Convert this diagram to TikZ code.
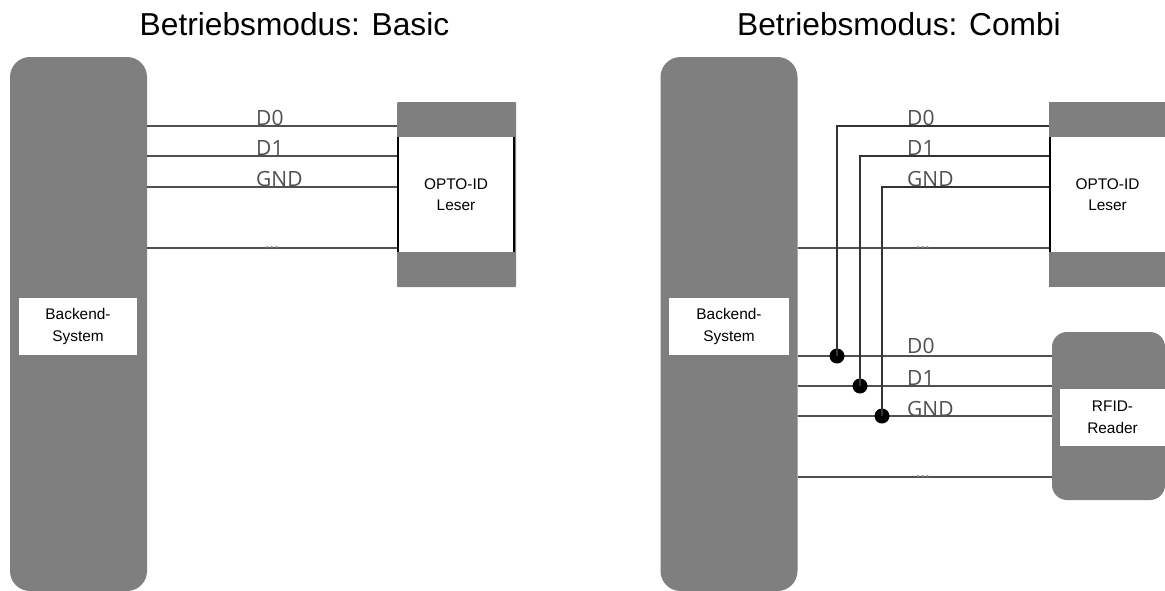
\documentclass[tikz,border=0pt]{standalone}
\usepackage{fontspec}
\setmainfont{Liberation Sans}
\newfontfamily\wirefont{Open Sans}
\definecolor{blockgray}{HTML}{7F7F7F}
\definecolor{wiregray}{HTML}{505050}
\definecolor{labelgray}{HTML}{505050}
\begin{document}
\begin{tikzpicture}[x=1pt,y=-1pt,
  block/.style={fill=blockgray,draw=none,inner sep=0pt,minimum width=#1},
  whitebox/.style={fill=white,draw=none,inner sep=0pt,align=center,font=\fontsize{15.4}{21.5}\selectfont,minimum width=#1},
  titletext/.style={inner sep=0pt,font=\fontsize{31.7}{35}\selectfont,anchor=base},
  wire/.style={draw=wiregray,line width=2.4pt},
  vwire/.style={draw=black!80,line width=2pt},
  wirelabel/.style={inner sep=0pt,anchor=base west,text=labelgray,font=\wirefont\fontsize{21}{22}\selectfont},
  dotslabel/.style={inner sep=0pt,anchor=base,text=labelgray!70,font=\wirefont\fontsize{17}{18}\selectfont},
  junction/.style={circle,fill=black,inner sep=0pt,minimum size=15pt},
  edgeline/.style={draw=black,line width=1.5pt}]
\useasboundingbox (0,0) rectangle (1165,590);
\fill[white] (0,0) rectangle (1165,590);

\node[titletext] (titleA) at (294.5,35.5) {Betriebsmodus: Basic};
\node[titletext] (titleB) at (899,35.5) {Betriebsmodus: Combi};

% Basic
\node[block=137pt,minimum height=534pt,rounded corners=20pt] (backA) at (78.5,324) {};
\node[whitebox=118pt,minimum height=57pt] (backAt) at (78,326.5) {Backend-\\System};
\node[block=119pt,minimum height=185pt,rounded corners=1pt] (optoA) at (456.5,194.5) {};
\node[whitebox=116pt,minimum height=115pt] (optoAt) at (456,194.5) {OPTO-ID\\Leser};
\draw[edgeline] (optoAt.north west) -- (optoAt.south west);
\draw[edgeline] (optoAt.north east) -- (optoAt.south east);
\coordinate (ya0) at (0,126);
\coordinate (ya1) at (0,156);
\coordinate (ya2) at (0,187);
\coordinate (ya3) at (0,248);
\foreach \c in {ya0,ya1,ya2,ya3}
  \draw[wire] (backA.east |- \c) -- (optoA.west |- \c);
\node[wirelabel] (la0) at (256,125) {D0};
\node[wirelabel] (la1) at (256,155) {D1};
\node[wirelabel] (la2) at (256,186) {GND};
\node[dotslabel] (la3) at (272,248) {...};

% Combi
\node[block=137pt,minimum height=534pt,rounded corners=20pt] (backB) at (729,324) {};
\node[whitebox=120pt,minimum height=57pt] (backBt) at (729,326.5) {Backend-\\System};
\node[block=116pt,minimum height=185pt] (optoB) at (1107,194.5) {};
\node[whitebox=115pt,minimum height=115pt] (optoBt) at (1107.5,194.5) {OPTO-ID\\Leser};
\draw[edgeline] (optoBt.north west) -- (optoBt.south west);
\node[block=113pt,minimum height=168pt,rounded corners=15pt] (rfid) at (1108.5,416) {};
\node[whitebox=105pt,minimum height=57pt] (rfidt) at (1112.5,417.5) {RFID-\\Reader};

\coordinate (yb0) at (0,126);
\coordinate (yb1) at (0,156);
\coordinate (yb2) at (0,187);
\coordinate (yb3) at (0,248);
\coordinate (yc0) at (0,356);
\coordinate (yc1) at (0,386);
\coordinate (yc2) at (0,416);
\coordinate (yc3) at (0,477);
\coordinate (xv0) at (837,0);
\coordinate (xv1) at (860,0);
\coordinate (xv2) at (882,0);
\draw[wire] (backB.east |- yb3) -- (optoB.west |- yb3);
\foreach \c in {yc0,yc1,yc2,yc3}
  \draw[wire] (backB.east |- \c) -- (rfid.west |- \c);
\node[junction] (j0) at (xv0 |- yc0) {};
\node[junction] (j1) at (xv1 |- yc1) {};
\node[junction] (j2) at (xv2 |- yc2) {};
\draw[vwire] (j0.center) -- (xv0 |- yb0) -- (optoB.west |- yb0);
\draw[vwire] (j1.center) -- (xv1 |- yb1) -- (optoB.west |- yb1);
\draw[vwire] (j2.center) -- (xv2 |- yb2) -- (optoB.west |- yb2);
\node[wirelabel] (lb0) at (907,125) {D0};
\node[wirelabel] (lb1) at (907,155) {D1};
\node[wirelabel] (lb2) at (907,186) {GND};
\node[dotslabel] (lb3) at (923,248) {...};
\node[wirelabel] (lc0) at (907,353) {D0};
\node[wirelabel] (lc1) at (907,385) {D1};
\node[wirelabel] (lc2) at (907,416) {GND};
\node[dotslabel] (lc3) at (923,477) {...};
\end{tikzpicture}
\end{document}
